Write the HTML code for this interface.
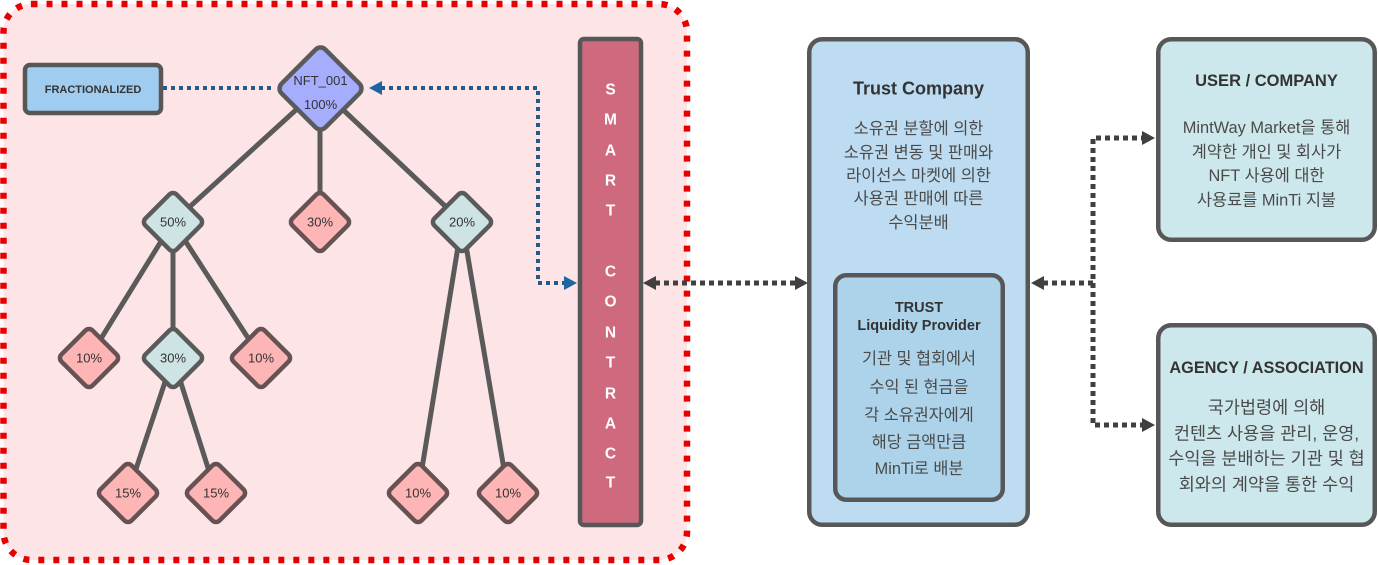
<!DOCTYPE html>
<html>
<head>
<meta charset="utf-8">
<style>
  html,body{margin:0;padding:0;background:#ffffff;}
  body{width:1379px;height:565px;overflow:hidden;}
  svg{display:block;}
  text{font-family:"Liberation Sans","Noto Sans CJK KR",sans-serif;}
</style>
</head>
<body>
<svg width="1379" height="565" viewBox="0 0 1379 565" xmlns="http://www.w3.org/2000/svg">
  <!-- Pink dashed container -->
  <rect x="3.5" y="4" width="683.5" height="556" rx="28" ry="28" fill="#fde5e7" stroke="#e60000" stroke-width="6.5" stroke-dasharray="6 9"/>

  <!-- Tree lines -->
  <g stroke="#5a5a5a" stroke-width="5" fill="none" stroke-linecap="round">
    <line x1="320" y1="88" x2="173" y2="222"/>
    <line x1="320" y1="88" x2="320" y2="222"/>
    <line x1="320" y1="88" x2="462" y2="222"/>
    <line x1="173" y1="222" x2="89" y2="358"/>
    <line x1="173" y1="222" x2="173" y2="358"/>
    <line x1="173" y1="222" x2="261" y2="358"/>
    <line x1="173" y1="358" x2="128" y2="493"/>
    <line x1="173" y1="358" x2="216" y2="493"/>
    <line x1="462" y1="222" x2="418" y2="493"/>
    <line x1="462" y1="222" x2="508" y2="493"/>
  </g>

  <!-- Blue dotted connectors -->
  <g stroke="#245a8a" stroke-width="4" fill="none" stroke-dasharray="4 4">
    <line x1="163" y1="88" x2="273" y2="88"/>
    <polyline points="381,88 538,88 538,283 566,283"/>
  </g>
  <polygon points="369,88 382,81 382,95" fill="#1f65a3"/>
  <polygon points="577,283 564,276 564,290" fill="#1f65a3"/>

  <!-- FRACTIONALIZED -->
  <rect x="25" y="65" width="136" height="48" rx="5" fill="#a0cdef" stroke="#575757" stroke-width="4.5"/>
  <text x="93" y="93" font-size="11" font-weight="bold" fill="#333" text-anchor="middle">FRACTIONALIZED</text>

  <!-- NFT diamond -->
  <rect x="-31" y="-31" width="62" height="62" rx="7" fill="#a5adfc" stroke="#5a5a5a" stroke-width="4.5" transform="translate(320.5,88.5) rotate(45)"/>
  <text x="320.5" y="85" font-size="13" fill="#333" text-anchor="middle">NFT_001</text>
  <text x="320.5" y="109" font-size="13" fill="#333" text-anchor="middle">100%</text>

  <!-- Cyan diamonds -->
  <g fill="#cee3e3" stroke="#5a5a5a" stroke-width="4.5">
    <rect x="-22" y="-22" width="44" height="44" rx="5" transform="translate(173,222) rotate(45)"/>
    <rect x="-22" y="-22" width="44" height="44" rx="5" transform="translate(462,222) rotate(45)"/>
    <rect x="-22" y="-22" width="44" height="44" rx="5" transform="translate(173,358) rotate(45)"/>
  </g>
  <!-- Pink diamonds -->
  <g fill="#fdb5b5" stroke="#665252" stroke-width="4.5">
    <rect x="-22" y="-22" width="44" height="44" rx="5" transform="translate(320,222) rotate(45)"/>
    <rect x="-22" y="-22" width="44" height="44" rx="5" transform="translate(89,358) rotate(45)"/>
    <rect x="-22" y="-22" width="44" height="44" rx="5" transform="translate(261,358) rotate(45)"/>
    <rect x="-22" y="-22" width="44" height="44" rx="5" transform="translate(128,493) rotate(45)"/>
    <rect x="-22" y="-22" width="44" height="44" rx="5" transform="translate(216,493) rotate(45)"/>
    <rect x="-22" y="-22" width="44" height="44" rx="5" transform="translate(418,493) rotate(45)"/>
    <rect x="-22" y="-22" width="44" height="44" rx="5" transform="translate(508,493) rotate(45)"/>
  </g>
  <g font-size="13" fill="#333" text-anchor="middle">
    <text x="173" y="226.5">50%</text>
    <text x="320" y="226.5">30%</text>
    <text x="462" y="226.5">20%</text>
    <text x="89" y="362.5">10%</text>
    <text x="173" y="362.5">30%</text>
    <text x="261" y="362.5">10%</text>
    <text x="128" y="497.5">15%</text>
    <text x="216" y="497.5">15%</text>
    <text x="418" y="497.5">10%</text>
    <text x="508" y="497.5">10%</text>
  </g>

  <!-- Smart contract -->
  <rect x="580" y="39" width="61" height="486" rx="4" fill="#cf6a7e" stroke="#575757" stroke-width="4.5"/>
  <g font-size="15.5" font-weight="bold" fill="#ffffff" text-anchor="middle">
    <text x="610.5" y="94.5">S</text>
    <text x="610.5" y="124.5">M</text>
    <text x="610.5" y="155.5">A</text>
    <text x="610.5" y="185.5">R</text>
    <text x="610.5" y="215.5">T</text>
    <text x="610.5" y="276.5">C</text>
    <text x="610.5" y="306.5">O</text>
    <text x="610.5" y="337.5">N</text>
    <text x="610.5" y="367.5">T</text>
    <text x="610.5" y="398.5">R</text>
    <text x="610.5" y="428.5">A</text>
    <text x="610.5" y="458.5">C</text>
    <text x="610.5" y="487.5">T</text>
  </g>

  <!-- Black dotted connectors -->
  <g stroke="#404040" stroke-width="5" fill="none" stroke-dasharray="5 4">
    <line x1="655" y1="283" x2="796" y2="283"/>
    <polyline points="1043,283 1093,283 1093,138 1143,138"/>
    <polyline points="1093,283 1093,425 1143,425"/>
  </g>
  <g fill="#404040">
    <polygon points="643,283 656,276 656,290"/>
    <polygon points="808,283 795,276 795,290"/>
    <polygon points="1031,283 1044,276 1044,290"/>
    <polygon points="1155,138 1142,131 1142,145"/>
    <polygon points="1155,425 1142,418 1142,432"/>
  </g>

  <!-- Trust Company -->
  <rect x="809.25" y="39.25" width="218.5" height="485.5" rx="13" fill="#bddcf1" stroke="#575757" stroke-width="4.5"/>
  <text x="918.5" y="94.5" font-size="18" font-weight="bold" fill="#333" text-anchor="middle">Trust Company</text>
  <g font-size="16.4" fill="#4a4a4a" text-anchor="middle">
    <text x="918.5" y="134">소유권 분할에 의한</text>
    <text x="918.5" y="158">소유권 변동 및 판매와</text>
    <text x="918.5" y="181">라이선스 마켓에 의한</text>
    <text x="918.5" y="204">사용권 판매에 따른</text>
    <text x="918.5" y="228">수익분배</text>
  </g>
  <rect x="835.25" y="275.25" width="167.5" height="224.5" rx="11" fill="#acd3ea" stroke="#575757" stroke-width="4.5"/>
  <text x="919" y="312" font-size="14.5" font-weight="bold" fill="#333" text-anchor="middle">TRUST</text>
  <text x="919" y="330" font-size="14.5" font-weight="bold" fill="#333" text-anchor="middle">Liquidity Provider</text>
  <g font-size="16.3" fill="#4a4a4a" text-anchor="middle">
    <text x="919" y="364">기관 및 협회에서</text>
    <text x="919" y="392.5">수익 된 현금을</text>
    <text x="919" y="420.5">각 소유권자에게</text>
    <text x="919" y="447.5">해당 금액만큼</text>
    <text x="919" y="474">MinTi로 배분</text>
  </g>

  <!-- USER / COMPANY -->
  <rect x="1158.25" y="39.25" width="216.5" height="200.5" rx="13" fill="#cde8ec" stroke="#575757" stroke-width="4.5"/>
  <text x="1266.5" y="86" font-size="16.5" font-weight="bold" fill="#333" text-anchor="middle">USER / COMPANY</text>
  <g font-size="16.4" fill="#4a4a4a" text-anchor="middle">
    <text x="1266.5" y="133">MintWay Market을 통해</text>
    <text x="1266.5" y="157.5">계약한 개인 및 회사가</text>
    <text x="1266.5" y="181">NFT 사용에 대한</text>
    <text x="1266.5" y="205.5">사용료를 MinTi 지불</text>
  </g>

  <!-- AGENCY / ASSOCIATION -->
  <rect x="1158.25" y="325.25" width="216.5" height="199.5" rx="13" fill="#cde8ec" stroke="#575757" stroke-width="4.5"/>
  <text x="1266.5" y="373" font-size="16.3" font-weight="bold" fill="#333" text-anchor="middle">AGENCY / ASSOCIATION</text>
  <g font-size="17.5" fill="#4a4a4a" text-anchor="middle">
    <text x="1266.5" y="413.5">국가법령에 의해</text>
    <text x="1266.5" y="439.5">컨텐츠 사용을 관리, 운영,</text>
    <text x="1266.5" y="464.5">수익을 분배하는 기관 및 협</text>
    <text x="1266.5" y="490.5">회와의 계약을 통한 수익</text>
  </g>
</svg>
</body>
</html>
